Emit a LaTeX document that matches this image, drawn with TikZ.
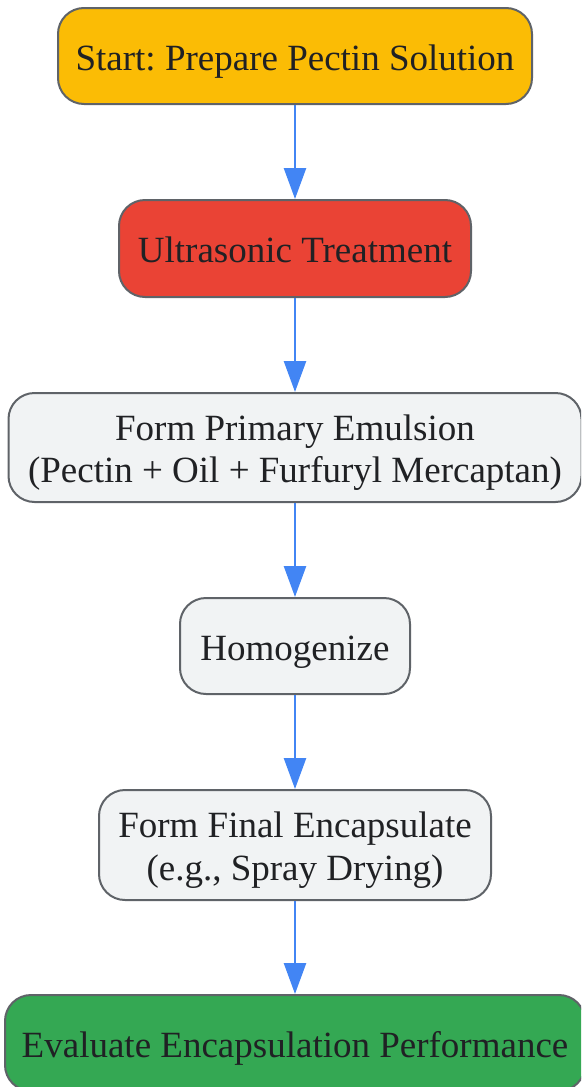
\documentclass[tikz,border=0pt]{standalone}
\usepackage{fontspec}
\setmainfont{Liberation Serif}
\usetikzlibrary{arrows.meta}
\frenchspacing
\definecolor{cyellow}{HTML}{FBBC05}
\definecolor{cred}{HTML}{EA4335}
\definecolor{cgray}{HTML}{F1F3F4}
\definecolor{cgreen}{HTML}{34A853}
\definecolor{cborder}{HTML}{5F6368}
\definecolor{ctext}{HTML}{202124}
\definecolor{carrow}{HTML}{4285F4}
\newcommand{\lowtxt}[1]{\raisebox{-5.5pt}[\height][\depth]{\begin{tabular}{@{}c@{}}#1\end{tabular}}}
\tikzset{
  stepbox/.style={draw=cborder, line width=2pt, rounded corners=26pt, inner sep=0pt,
    text=ctext, font=\fontsize{37}{42.5}\selectfont},
  flowarrow/.style={draw=carrow, line width=2.6pt, -{Triangle[length=31pt,width=22pt]}}
}
\begin{document}
\begin{tikzpicture}[x=1pt,y=-1pt]
\useasboundingbox (0,0) rectangle (581,1087);
\clip (0,0) rectangle (581,1087);
\node[stepbox, fill=cyellow, minimum width=474pt, minimum height=96pt] (n1) at (295,56) {\lowtxt{Start: Prepare Pectin Solution}};
\node[stepbox, fill=cred, minimum width=352pt, minimum height=97pt] (n2) at (295,248.5) {\lowtxt{Ultrasonic Treatment}};
\node[stepbox, fill=cgray, minimum width=573pt, minimum height=109pt] (n3) at (295,447.5) {\lowtxt{Form Primary Emulsion\\(Pectin + Oil + Furfuryl Mercaptan)}};
\node[stepbox, fill=cgray, minimum width=230pt, minimum height=96pt] (n4) at (295,646) {\lowtxt{Homogenize}};
\node[stepbox, fill=cgray, minimum width=392pt, minimum height=110pt] (n5) at (295,845) {\lowtxt{Form Final Encapsulate\\(e.g., Spray Drying)}};
\node[stepbox, fill=cgreen, minimum width=580pt, minimum height=96pt] (n6) at (295,1043) {\lowtxt{Evaluate Encapsulation Performance}};
\draw[flowarrow] (n1.south) -- (n2.north);
\draw[flowarrow] (n2.south) -- (n3.north);
\draw[flowarrow] (n3.south) -- (n4.north);
\draw[flowarrow] (n4.south) -- (n5.north);
\draw[flowarrow] (n5.south) -- (n6.north);
\end{tikzpicture}
\end{document}
